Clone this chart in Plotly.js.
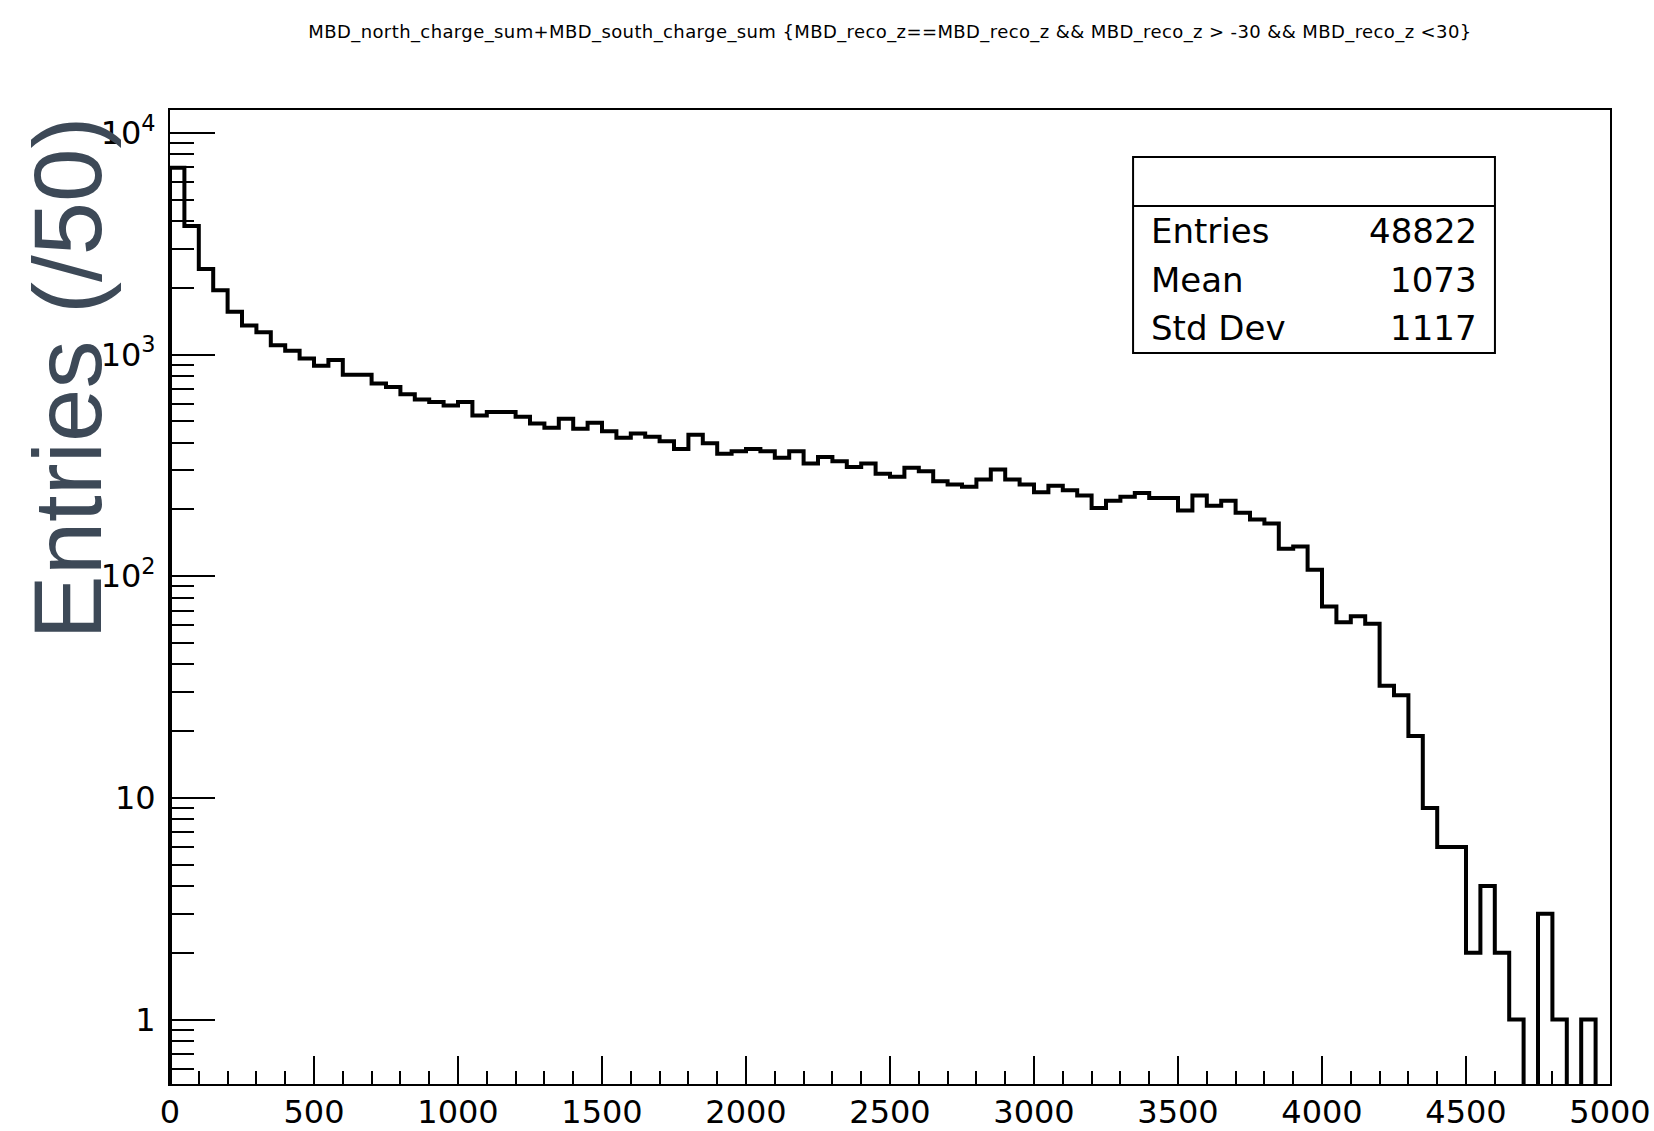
<!DOCTYPE html>
<html>
<head>
<meta charset="utf-8">
<script src="https://cdn.plot.ly/plotly-3.0.1.min.js"></script>
<style>
  html, body { margin: 0; padding: 0; background: #ffffff; }
  #chart { width: 1654px; height: 1131px; }
  .gtitle { letter-spacing: 0.4px; }
</style>
</head>
<body>
<div id="chart"></div>
<script>
// MBD charge sum histogram: 100 bins of width 50 from 0 to 5000
const binWidth = 50;
const counts = [
  6960, 3800, 2430, 1950, 1560, 1350, 1260, 1100, 1040, 960,
  890, 945, 810, 810, 740, 713, 662, 626, 610, 589,
  610, 531, 550, 550, 524, 488, 467, 513, 462, 492,
  451, 421, 440, 425, 406, 375, 435, 398, 357, 366,
  375, 366, 342, 366, 322, 345, 330, 311, 322, 290,
  281, 308, 297, 268, 259, 253, 273, 303, 273, 259,
  239, 256, 244, 231, 203, 219, 228, 237, 225, 225,
  198, 231, 208, 219, 193, 180, 173, 133, 136, 107,
  73, 62, 66, 61, 32, 29, 19, 9, 6, 6,
  2, 4, 2, 1, 0, 3, 1, 0, 1, 0
];

// Statistics box
const statNames = ["Entries", "Mean", "Std Dev"];
const statValues = ["48822", "1073", "1117"];

// Axis ticks and labels
const xTickVals = [0, 500, 1000, 1500, 2000, 2500, 3000, 3500, 4000, 4500, 5000];
const xMinorDtick = 100;
const yTickVals = [1, 10, 100, 1000, 10000];
const yTickText = ["1", "10", "10<sup>2</sup>", "10<sup>3</sup>", "10<sup>4</sup>"];
const yMinorVals = [0.6, 0.7, 0.8, 0.9,
  2, 3, 4, 5, 6, 7, 8, 9,
  20, 30, 40, 50, 60, 70, 80, 90,
  200, 300, 400, 500, 600, 700, 800, 900,
  2000, 3000, 4000, 5000, 6000, 7000, 8000, 9000];

const titleText = "MBD_north_charge_sum+MBD_south_charge_sum {MBD_reco_z==MBD_reco_z && MBD_reco_z > -30 && MBD_reco_z <30}";
const yTitleText = "Entries (/50)";

// Empty bins are sent below the visible range so the outline drops to the frame
const BELOW_AXIS = 0.01;
const xs = [0];
const ys = [BELOW_AXIS];
counts.forEach((c, i) => {
  xs.push(i * binWidth);
  ys.push(c > 0 ? c : BELOW_AXIS);
});
xs.push(counts.length * binWidth);
ys.push(BELOW_AXIS);

const hist = {
  type: "scatter",
  mode: "lines",
  x: xs,
  y: ys,
  line: { shape: "hv", color: "#000000", width: 4, simplify: false },
  hoverinfo: "skip",
  showlegend: false
};

const tickFont = { family: "DejaVu Sans", size: 32, color: "#000000" };
const statFont = { family: "DejaVu Sans", size: 34, color: "#000000" };

// Stats box geometry in plot-area fractions
const box = { x0: 0.6688, x1: 0.9201, y0: 0.7505, y1: 0.9517, sep: 0.9014 };
const rowY = [0.8760, 0.8250, 0.7760];

const annotations = [];
statNames.forEach((name, i) => {
  annotations.push({
    xref: "paper", yref: "paper", x: 0.6800, y: rowY[i],
    xanchor: "left", yanchor: "middle", showarrow: false,
    text: name, font: statFont
  });
  annotations.push({
    xref: "paper", yref: "paper", x: 0.9088, y: rowY[i],
    xanchor: "right", yanchor: "middle", showarrow: false,
    text: statValues[i], font: statFont
  });
});
annotations.push({
  xref: "paper", yref: "paper", x: -0.0715, y: 0.7245,
  xanchor: "center", yanchor: "middle", showarrow: false,
  textangle: -90, text: yTitleText,
  font: { family: "Liberation Sans", size: 96, color: "#3d4957" }
});

const layout = {
  width: 1654,
  height: 1131,
  paper_bgcolor: "#ffffff",
  plot_bgcolor: "#ffffff",
  margin: { l: 170, r: 44, t: 110, b: 47, pad: 0 },
  showlegend: false,
  title: {
    text: titleText,
    font: { family: "DejaVu Sans", size: 18, color: "#000000" },
    x: 0.5, xref: "paper", xanchor: "center",
    y: 1 - 32 / 1131, yref: "container", yanchor: "middle"
  },
  xaxis: {
    range: [0, 5000],
    showgrid: false, zeroline: false,
    showline: true, linecolor: "#000000", linewidth: 2, mirror: true,
    tickmode: "array", tickvals: xTickVals,
    ticks: "inside", ticklen: 28, tickwidth: 2, tickcolor: "#000000",
    minor: { dtick: xMinorDtick, ticks: "inside", ticklen: 13, tickwidth: 2, tickcolor: "#000000", showgrid: false },
    tickfont: tickFont,
    ticklabelstandoff: -1
  },
  yaxis: {
    type: "log",
    range: [-0.291, 4.103],
    showgrid: false, zeroline: false,
    showline: true, linecolor: "#000000", linewidth: 2, mirror: true,
    tickmode: "array", tickvals: yTickVals, ticktext: yTickText,
    ticks: "inside", ticklen: 45, tickwidth: 2, tickcolor: "#000000",
    minor: { tickmode: "array", tickvals: yMinorVals, ticks: "inside", ticklen: 24, tickwidth: 2, tickcolor: "#000000", showgrid: false },
    tickfont: tickFont,
    ticklabelstandoff: 6
  },
  shapes: [
    { type: "rect", xref: "paper", yref: "paper", x0: box.x0, x1: box.x1, y0: box.y0, y1: box.y1,
      line: { color: "#000000", width: 2 }, fillcolor: "#ffffff", layer: "above" },
    { type: "line", xref: "paper", yref: "paper", x0: box.x0, x1: box.x1, y0: box.sep, y1: box.sep,
      line: { color: "#000000", width: 2 }, layer: "above" }
  ],
  annotations: annotations
};

Plotly.newPlot("chart", [hist], layout, { staticPlot: true, displayModeBar: false });
</script>
</body>
</html>
